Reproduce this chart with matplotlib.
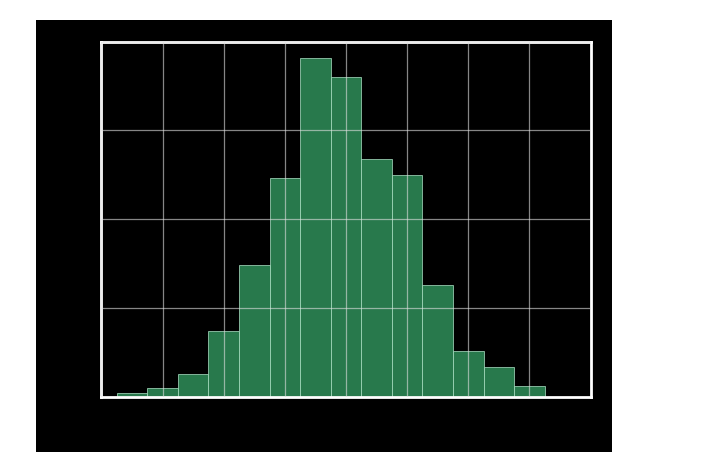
import matplotlib
matplotlib.use("Agg")
import matplotlib.pyplot as plt
from matplotlib.patches import Rectangle

# histogram
bin_left = [-3.75, -3.25, -2.75, -2.25, -1.75, -1.25, -0.75,
            -0.25, 0.25, 0.75, 1.25, 1.75, 2.25, 2.75]
counts = [2, 5, 13, 37, 74, 123, 191, 180, 134, 125, 63, 26, 17, 6]
bin_width = 0.5

fig = plt.figure(figsize=(7.28, 4.61), dpi=100)
fig.patch.set_facecolor("white")

# black panel behind the plot
fig.patches.append(Rectangle((36/728, 1 - 452/461), 576/728, 432/461,
                             transform=fig.transFigure, facecolor="black",
                             edgecolor="none", zorder=-10))

ax = fig.add_axes([0.1394, 0.1395, 0.6719, 0.770])
ax.set_facecolor("black")

ax.bar(bin_left, counts, width=bin_width, align="edge",
       color="#2e8b57", alpha=0.88, edgecolor="#a8dcc0", linewidth=0.6, zorder=1)

ax.set_xlim(-4, 4)
ax.set_ylim(0, 200)
ax.set_xticks(range(-4, 5))
ax.set_yticks([0, 50, 100, 150, 200])
ax.grid(True, color="#e0e0e0", alpha=0.6, linewidth=0.9, zorder=2)
ax.set_axisbelow(False)
ax.tick_params(length=0, labelbottom=False, labelleft=False)

for s in ax.spines.values():
    s.set_color("white")
    s.set_linewidth(2)

fig.savefig("out.png", dpi=100, facecolor=fig.get_facecolor())
